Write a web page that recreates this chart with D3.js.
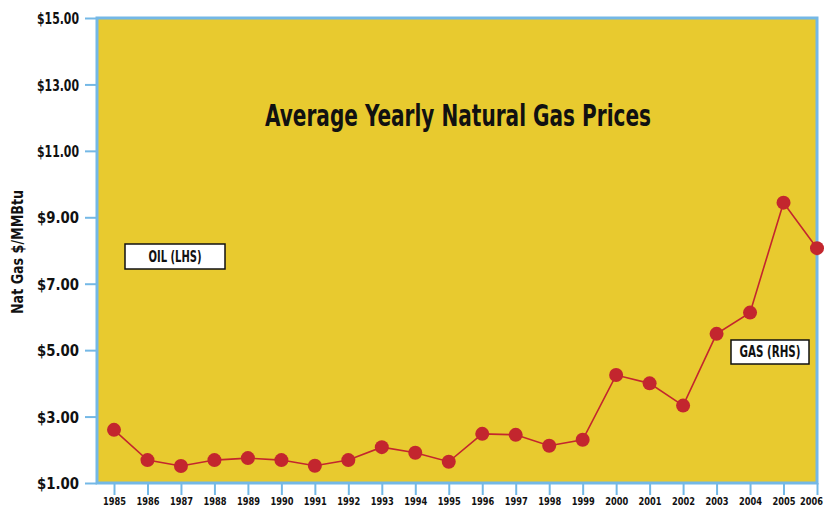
<!DOCTYPE html>
<html>
<head>
<meta charset="utf-8">
<script src="https://cdn.jsdelivr.net/npm/d3@7"></script>
<style>
  body { margin: 0; background: #fff; }
  text { font-family: "DejaVu Sans Condensed", "Liberation Sans Narrow", sans-serif; font-weight: bold; fill: #111; }
</style>
</head>
<body>
<div class="container"></div>
<script>
var years = [1985,1986,1987,1988,1989,1990,1991,1992,1993,1994,1995,1996,1997,1998,1999,2000,2001,2002,2003,2004,2005,2006];
var gasPrice = [2.60,1.69,1.51,1.69,1.75,1.69,1.52,1.69,2.08,1.91,1.64,2.48,2.45,2.12,2.30,4.25,4.00,3.33,5.49,6.13,9.44,8.07];
var yTicks = [1,3,5,7,9,11,13,15];

var loadChart = function(){
    var width = 829, height = 508;
    var left = 97, right = 817, top = 18, bottom = 483;

    var svg = d3.select('.container')
                .append('svg')
                .attr('width', width)
                .attr('height', height);

    var x = d3.scalePoint()
              .domain(years)
              .range([114, right]);

    var y = d3.scaleLinear()
              .domain([1, 15])
              .range([bottom, top]);

    // plot background
    svg.append('rect')
        .attr('x', left)
        .attr('y', top)
        .attr('width', right - left)
        .attr('height', bottom - top)
        .attr('fill', '#e8ca2f');

    // axes
    var yAxis = svg.append('g')
        .attr('transform', 'translate(' + left + ',0)')
        .call(d3.axisLeft(y).tickValues(yTicks).tickSize(12).tickPadding(6)
              .tickFormat(function(d){ return '$' + d3.format('.2f')(d); }));
    yAxis.select('.domain').remove();
    yAxis.selectAll('line').attr('stroke', '#74b8e6').attr('stroke-width', 2);
    yAxis.selectAll('text')
        .style('font-size', '16px')
        .attr('dy', '0.35em')
        .attr('textLength', 42)
        .attr('lengthAdjust', 'spacingAndGlyphs');

    var xAxis = svg.append('g')
        .attr('transform', 'translate(0,' + bottom + ')')
        .call(d3.axisBottom(x).tickSize(12).tickPadding(2));
    xAxis.select('.domain').remove();
    xAxis.selectAll('line').attr('stroke', '#74b8e6').attr('stroke-width', 2);
    xAxis.selectAll('text')
        .style('font-size', '11px')
        .attr('textLength', 23)
        .attr('lengthAdjust', 'spacingAndGlyphs')
        .attr('x', function(d){ return d === 2006 ? -6 : 0; });

    // border
    svg.append('rect')
        .attr('x', left)
        .attr('y', top)
        .attr('width', right - left)
        .attr('height', bottom - top)
        .attr('fill', 'none')
        .attr('stroke', '#74b8e6')
        .attr('stroke-width', 3);

    // line + markers
    var line = d3.line()
        .x(function(d, i){ return x(years[i]); })
        .y(function(d){ return y(d); });

    svg.append('path')
        .datum(gasPrice)
        .attr('d', line)
        .attr('fill', 'none')
        .attr('stroke', '#c3262e')
        .attr('stroke-width', 1.6);

    svg.selectAll('circle')
        .data(gasPrice)
        .enter()
        .append('circle')
        .attr('cx', function(d, i){ return x(years[i]); })
        .attr('cy', function(d){ return y(d); })
        .attr('r', 7)
        .attr('fill', '#c3262e');

    // title
    svg.append('text')
        .attr('x', 265)
        .attr('y', 126)
        .style('font-size', '30px')
        .attr('textLength', 386)
        .attr('lengthAdjust', 'spacingAndGlyphs')
        .text('Average Yearly Natural Gas Prices');

    // y axis title
    svg.append('text')
        .attr('transform', 'translate(23,252) rotate(-90)')
        .attr('text-anchor', 'middle')
        .style('font-size', '15px')
        .attr('textLength', 124)
        .attr('lengthAdjust', 'spacingAndGlyphs')
        .text('Nat Gas $/MMBtu');

    // label boxes
    var boxes = [
        {label: 'OIL (LHS)', x: 125, y: 244, w: 100, h: 25, tw: 53},
        {label: 'GAS (RHS)', x: 731, y: 340, w: 78, h: 24, tw: 61}
    ];
    boxes.forEach(function(b){
        svg.append('rect')
            .attr('x', b.x).attr('y', b.y)
            .attr('width', b.w).attr('height', b.h)
            .attr('fill', '#fff')
            .attr('stroke', '#111')
            .attr('stroke-width', 1.5);
        svg.append('text')
            .attr('x', b.x + (b.w - b.tw) / 2)
            .attr('y', b.y + b.h / 2)
            .attr('dy', '0.36em')
            .style('font-size', '15px')
            .attr('textLength', b.tw)
            .attr('lengthAdjust', 'spacingAndGlyphs')
            .text(b.label);
    });
}
window.onload = loadChart;
</script>
</body>
</html>
